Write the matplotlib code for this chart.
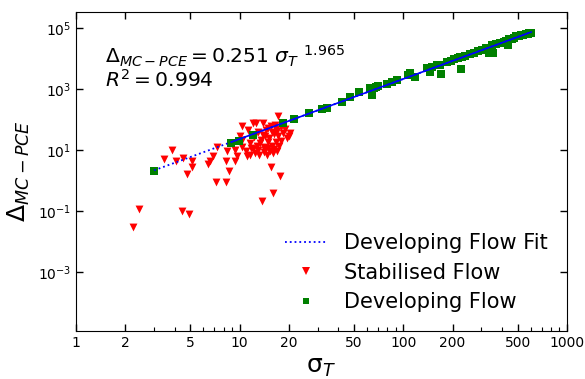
import matplotlib
matplotlib.use("Agg")
import numpy as np
import matplotlib.pyplot as plt
from matplotlib.ticker import FixedLocator, FuncFormatter, NullFormatter, LogLocator

# Developing flow (green squares)
dev_sigma = [3.0, 8.9, 9.9, 12.1, 18.5, 21.5, 26.6, 31.7, 34, 42, 47, 53.6, 62.5, 64, 66, 68,
             70, 79, 85, 91, 107, 110, 118, 139, 145, 150, 160, 167, 171, 184, 195, 205,
             215, 222, 225, 229, 240, 255, 269, 285, 302, 320, 335, 348, 355, 370, 389,
             410, 425, 438, 440, 460, 475, 492, 510, 525, 540, 560, 575, 590, 600, 605]
dev_delta = [2.1, 17.6, 19.6, 32, 76, 102, 160, 217, 234, 380, 537, 776, 1050, 630, 1100, 1200,
             1240, 1440, 1700, 2040, 2800, 3400, 2400, 5000, 3600, 5300, 6000, 6000, 3200, 7700,
             8500, 9500, 10500, 11000, 4600, 11500, 12500, 14000, 15000, 17500, 19600, 22000,
             15500, 27000, 15000, 29500, 32000, 35500, 38000, 27000, 42000, 45000, 48000,
             54000, 56000, 58000, 59000, 63000, 65000, 68000, 70000, 66000]

# Stabilised flow (red triangles)
stab_sigma = [2.24, 2.44, 3.46, 3.84, 4.08, 4.42, 4.52, 4.74, 4.9, 5.13, 5.13, 6.4, 6.6, 6.9,
              7.2, 7.3, 8.2, 8.2, 8.4, 8.6, 9.4, 9.4, 9.6, 10.0, 10.3, 10.3, 10.4, 10.9, 11.1,
              11.2, 11.6, 11.6, 11.8, 12.0, 12.1, 12.3, 12.4, 12.6, 12.8, 13.0, 13.0, 13.2,
              13.3, 13.5, 13.7, 13.8, 13.9, 14.0, 14.1, 14.2, 14.3, 14.5, 14.6, 14.8, 15.0,
              15.0, 15.2, 15.3, 15.5, 15.5, 15.7, 15.8, 15.9, 16.0, 16.2, 16.3, 16.4, 16.6,
              16.7, 16.9, 17.0, 17.2, 17.2, 17.5, 17.6, 17.8, 18.0, 18.5, 19.0, 19.4, 20.0,
              20.4]
stab_delta = [0.031, 0.117, 5.1, 10, 4.3, 0.10, 5.5, 1.7, 0.078, 4.3, 2.9, 3.6, 4.5, 6.2,
              0.88, 12.5, 0.88, 4.3, 9, 2.1, 4.3, 10, 6.2, 29, 22, 13, 61, 9, 6.5,
              45, 17, 7, 12, 76, 10.8, 26, 8, 76, 14, 10, 40, 7,
              17, 22, 0.21, 76, 31, 8.5, 13, 28, 10, 45, 7, 18, 52,
              11.5, 25, 9, 2.9, 60, 40, 14, 0.40, 8, 11, 33, 66, 50,
              19, 9.5, 42, 130, 28, 14, 1.45, 20, 55, 36, 48, 25, 30,
              36]

# Ajuste: Delta = a * sigma^b
fit_a = 0.251
fit_b = 1.965
r2 = 0.994

fig = plt.figure(figsize=(5.85, 3.79), dpi=100)
ax = fig.add_axes([0.130, 0.127, 0.839, 0.841])

ax.scatter(stab_sigma, stab_delta, marker="v", s=32, color="red", linewidths=0, zorder=2)
ax.scatter(dev_sigma, dev_delta, marker="s", s=26, color="green", linewidths=0, zorder=3)

xs = np.logspace(np.log10(min(dev_sigma)), np.log10(max(dev_sigma)), 200)
ax.plot(xs, fit_a * xs ** fit_b, ":", color="blue", lw=1.3, zorder=4)
xs2 = xs[xs >= dev_sigma[1]]
ax.plot(xs2, fit_a * xs2 ** fit_b, "-", color="blue", lw=1.2, zorder=4)

ax.set_xscale("log")
ax.set_yscale("log")
ax.set_xlim(1, 1000)
ax.set_ylim(1.2e-5, 3.3e5)

ax.xaxis.set_major_locator(FixedLocator([1, 2, 5, 10, 20, 50, 100, 200, 500, 1000]))
ax.xaxis.set_major_formatter(FuncFormatter(lambda v, p: "%d" % round(v)))
ax.xaxis.set_minor_locator(LogLocator(base=10, subs=np.arange(2, 10), numticks=20))
ax.xaxis.set_minor_formatter(NullFormatter())
ax.yaxis.set_major_locator(FixedLocator([1e-3, 1e-1, 1e1, 1e3, 1e5]))
ax.yaxis.set_minor_locator(FixedLocator([]))

ax.tick_params(which="major", direction="in", top=True, right=True, length=5, width=1,
               labelsize=10)
ax.tick_params(which="minor", direction="in", top=False, right=False, length=3, width=0.8)

ax.set_xlabel("σ$_T$", fontsize=18)
ax.set_ylabel("$\\Delta_{MC-PCE}$", fontsize=18)

ax.text(0.058, 0.9, "$\\Delta_{MC-PCE} = %.3f\\ \\sigma_T\\ ^{%.3f}$\n$R^2 = %.3f$" % (fit_a, fit_b, r2),
        transform=ax.transAxes, fontsize=14.6, va="top", ha="left", linespacing=1.0)

h_fit = plt.Line2D([], [], ls=":", color="blue", lw=1.3)
h_stab = plt.Line2D([], [], ls="", marker="v", color="red", markersize=6, markeredgewidth=0)
h_dev = plt.Line2D([], [], ls="", marker="s", color="green", markersize=5, markeredgewidth=0)
ax.legend([h_fit, h_stab, h_dev], ["Developing Flow Fit", "Stabilised Flow", "Developing Flow"],
          loc="lower right", frameon=False, fontsize=15, labelspacing=0.45, handlelength=2.0,
          handletextpad=0.85)

fig.savefig("out.png", dpi=100)
